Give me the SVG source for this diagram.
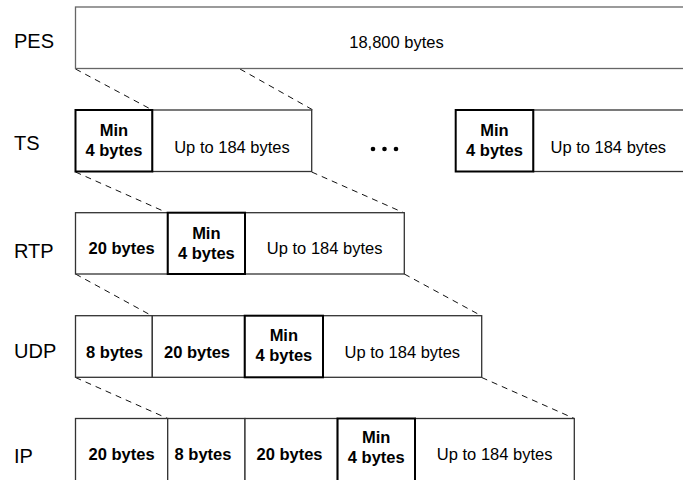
<svg xmlns="http://www.w3.org/2000/svg" width="683" height="480" viewBox="0 0 683 480">
<style>
.lbl{font-family:"Liberation Sans",Arial,sans-serif;font-size:20px;fill:#000}
.t{font-family:"Liberation Sans",Arial,sans-serif;font-size:16.5px;fill:#000;text-anchor:middle}
.b{font-family:"Liberation Sans",Arial,sans-serif;font-size:16.5px;font-weight:bold;fill:#000;text-anchor:middle}
.cell{fill:#fff;stroke:#333;stroke-width:1.3}
.pes{fill:#fff;stroke:#666;stroke-width:1.3}
.min{fill:none;stroke:#000;stroke-width:2}
.dash{stroke:#111;stroke-width:1;stroke-dasharray:6 5;fill:none}
</style>
<rect width="683" height="480" fill="#fff"/>

<g id="labels">
<text class="lbl" x="14" y="48">PES</text>
<text class="lbl" x="14" y="150">TS</text>
<text class="lbl" x="14" y="258">RTP</text>
<text class="lbl" x="14" y="358">UDP</text>
<text class="lbl" x="14" y="463">IP</text>
</g>

<g id="connectors">
<line class="dash" x1="75.5" y1="69" x2="152.3" y2="110"/>
<line class="dash" x1="240" y1="69" x2="313" y2="110"/>
<line class="dash" x1="75.5" y1="172" x2="167.7" y2="213"/>
<line class="dash" x1="311.7" y1="172" x2="404.3" y2="213"/>
<line class="dash" x1="75.5" y1="274" x2="152.3" y2="316"/>
<line class="dash" x1="404.3" y1="274" x2="481.7" y2="316"/>
<line class="dash" x1="75.5" y1="377.5" x2="167.7" y2="418.5"/>
<line class="dash" x1="481.7" y1="377.5" x2="574.3" y2="418.5"/>
</g>

<g id="pes">
<rect class="pes" x="75.5" y="7" width="642" height="61.5"/>
<text class="t" x="396.5" y="48.3">18,800 bytes</text>
</g>

<g id="ts1">
<rect class="cell" x="152.3" y="110" width="159.4" height="61.5"/>
<rect class="min" x="75.5" y="110" width="76.8" height="61.5"/>
<text class="b" x="113.9" y="136.3">Min</text>
<text class="b" x="113.9" y="155.7">4 bytes</text>
<text class="t" x="232" y="152.5">Up to 184 bytes</text>
</g>

<g id="ellipsis">
<circle cx="373" cy="149" r="2.3" fill="#000"/>
<circle cx="384.5" cy="149" r="2.3" fill="#000"/>
<circle cx="396" cy="149" r="2.3" fill="#000"/>
</g>

<g id="ts2">
<rect class="cell" x="533.3" y="110" width="152" height="61.5"/>
<rect class="min" x="455.7" y="110" width="77.6" height="61.5"/>
<text class="b" x="494.5" y="136.3">Min</text>
<text class="b" x="494.5" y="155.7">4 bytes</text>
<text class="t" x="608.3" y="152.5">Up to 184 bytes</text>
</g>

<g id="rtp">
<rect class="cell" x="75.5" y="212.7" width="92.2" height="61.3"/>
<rect class="cell" x="245" y="212.7" width="159.3" height="61.3"/>
<rect class="min" x="167.7" y="212.7" width="77.3" height="61.3"/>
<text class="b" x="121.6" y="254.3">20 bytes</text>
<text class="b" x="206.35" y="239.2">Min</text>
<text class="b" x="206.35" y="258.6">4 bytes</text>
<text class="t" x="324.65" y="254.3">Up to 184 bytes</text>
</g>

<g id="udp">
<rect class="cell" x="75.5" y="315.7" width="76.8" height="61.6"/>
<rect class="cell" x="152.3" y="315.7" width="92.4" height="61.6"/>
<rect class="cell" x="323" y="315.7" width="158.7" height="61.6"/>
<rect class="min" x="244.7" y="315.7" width="78.3" height="61.6"/>
<text class="b" x="114.5" y="357.5">8 bytes</text>
<text class="b" x="197" y="357.5">20 bytes</text>
<text class="b" x="283.85" y="341">Min</text>
<text class="b" x="283.85" y="361.3">4 bytes</text>
<text class="t" x="402.35" y="357.5">Up to 184 bytes</text>
</g>

<g id="ip">
<rect class="cell" x="75.5" y="418.5" width="92.2" height="63"/>
<rect class="cell" x="167.7" y="418.5" width="77.3" height="63"/>
<rect class="cell" x="245" y="418.5" width="92.5" height="63"/>
<rect class="cell" x="415" y="418.5" width="159.3" height="63"/>
<rect class="min" x="337.5" y="418.5" width="77.5" height="63"/>
<text class="b" x="121.6" y="460">20 bytes</text>
<text class="b" x="203" y="460">8 bytes</text>
<text class="b" x="289.5" y="460">20 bytes</text>
<text class="b" x="376.25" y="443.3">Min</text>
<text class="b" x="376.25" y="462.5">4 bytes</text>
<text class="t" x="494.65" y="460">Up to 184 bytes</text>
</g>
</svg>
